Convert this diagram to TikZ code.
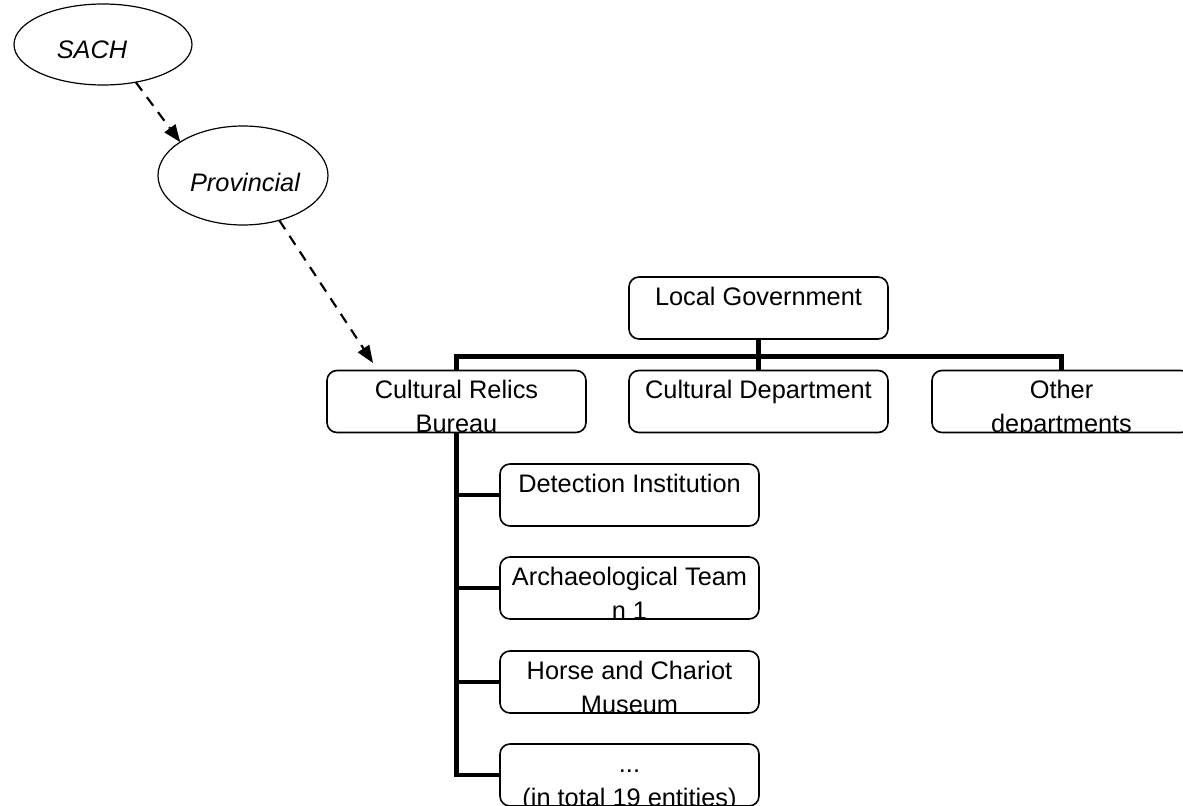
\documentclass[tikz,border=0pt]{standalone}
\usepackage{fontspec}
\setmainfont{Liberation Sans}
\usetikzlibrary{arrows.meta, shapes.geometric}
\newcommand{\orgfont}{\fontsize{19pt}{25.5pt}\selectfont}
\tikzset{
  orgbox/.style={rectangle, draw, rounded corners=7.5pt, line width=1.2pt,
    minimum width=194.25pt, minimum height=46.5pt, inner sep=0pt, outer sep=0pt,
    path picture={\node[rectangle, anchor=north, align=center, inner sep=0pt,
        minimum width=0pt, minimum height=0pt, font=\orgfont]
      at ([yshift=-3.5pt]path picture bounding box.north) {\strut #1};}},
  oval/.style={ellipse, draw, line width=0.9pt, inner sep=0pt, outer sep=0pt},
  ovaltext/.style={rectangle, minimum width=0pt, minimum height=0pt,
    font=\orgfont\itshape, inner sep=0pt},
  dasharrow/.style={-{Triangle[length=13pt,width=10pt]}, line width=1.6pt,
    dash pattern=on 8pt off 6pt},
  tree/.style={line width=3.5pt}
}

\begin{document}
\begin{tikzpicture}[x=0.75pt, y=-0.75pt]
  \useasboundingbox (0,0) rectangle (1183,806);

  % Ovals at the top
  \node[oval, minimum width=133.5pt, minimum height=60.75pt,
    path picture={\node[ovaltext] at ([xshift=-8.25pt,yshift=-4pt]path picture bounding box.center) {SACH};}]
    (sach) at (103,44.5) {};
  \node[oval, minimum width=127.5pt, minimum height=74.25pt,
    path picture={\node[ovaltext] at ([xshift=1.5pt,yshift=-4.9pt]path picture bounding box.center) {Provincial};}]
    (prov) at (243,175.5) {};

  % Dashed arrows
  \coordinate (tip) at (373,363);
  \draw[dasharrow] (sach.-49) -- (prov.152);
  \draw[dasharrow] (prov.-51) -- (tip);

  % Local level
  \node[orgbox={Local Government}] (gov) at (758.5,308) {};
  \node[orgbox={Cultural Relics\\Bureau}] (bureau) at (456.5,401.5) {};
  \node[orgbox={Cultural Department}] (culture) at (758.5,401.5) {};
  \node[orgbox={Other\\departments}] (other) at (1061.5,401.5) {};

  % Entities under the bureau
  \node[orgbox={Detection Institution}] (detect) at (629.5,495) {};
  \node[orgbox={Archaeological Team\\n 1}] (team) at (629.5,588) {};
  \node[orgbox={Horse and Chariot\\Museum}] (museum) at (629.5,682) {};
  \node[orgbox={...\\(in total 19 entities)}] (more) at (629.5,775) {};

  % Tree connectors
  \draw[tree] (gov.south) -- (culture.north);
  \draw[tree] (bureau.north) -- ++(0,-14) -| (other.north);
  \draw[tree] (bureau.south) |- (more.west);
  \draw[tree] (bureau.south |- detect.west) -- (detect.west);
  \draw[tree] (bureau.south |- team.west) -- (team.west);
  \draw[tree] (bureau.south |- museum.west) -- (museum.west);
\end{tikzpicture}
\end{document}
